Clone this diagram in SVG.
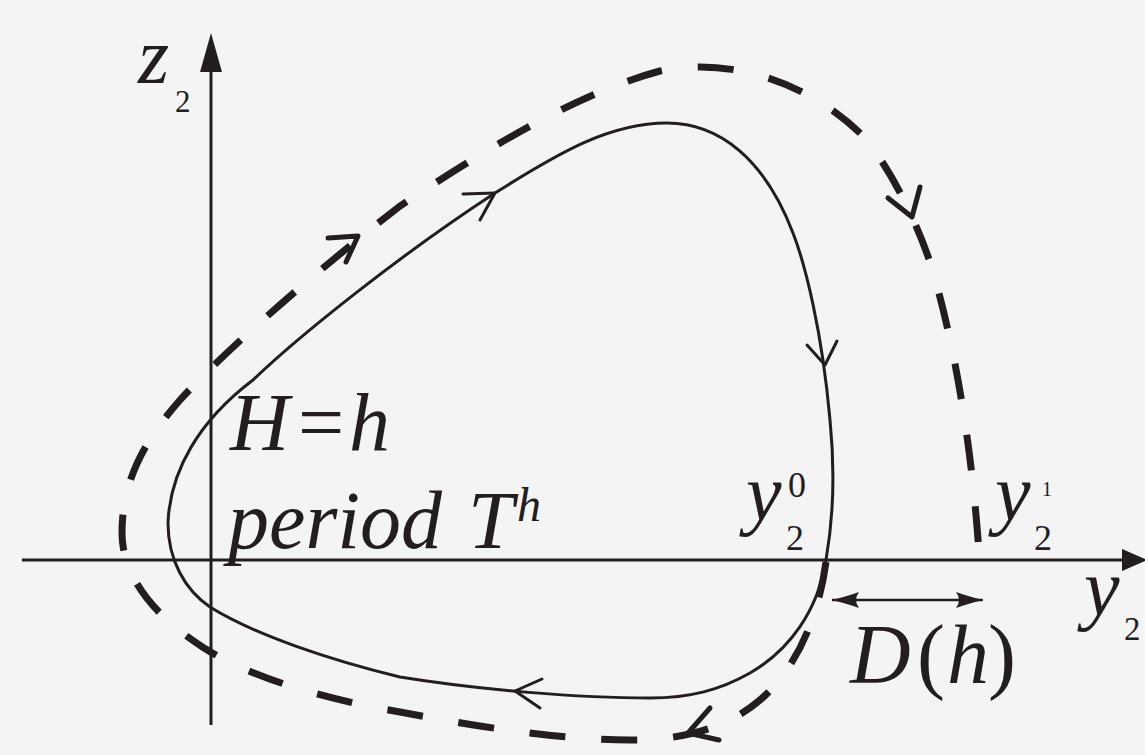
<svg xmlns="http://www.w3.org/2000/svg" width="1145" height="755" viewBox="0 0 1145 755">
<style>
.bg{fill:#f4f4f4}
.axis{stroke:#221e1f;stroke-width:3;fill:none}
.head{fill:#221e1f;stroke:none}
.orbit{stroke:#221e1f;stroke-width:3;fill:none}
.dash{stroke:#221e1f;stroke-width:7;fill:none;stroke-dasharray:36 36}
.chev{stroke:#221e1f;stroke-width:3;fill:none;stroke-linecap:round;stroke-linejoin:round}
.dchev{stroke:#221e1f;stroke-width:5;fill:none;stroke-linecap:round;stroke-linejoin:round}
.dim{stroke:#221e1f;stroke-width:2.5;fill:none}
.it{font-style:italic}
</style>
<defs>
<marker id="dh" viewBox="-30 -10 32 20" refX="0" refY="0" markerWidth="32" markerHeight="20" markerUnits="userSpaceOnUse" orient="auto-start-reverse">
<path d="M0,0 Q-16,-4 -27,-8 Q-21,0 -27,8 Q-16,4 0,0 Z" fill="#221e1f"/>
</marker>
</defs>
<rect class="bg" x="0" y="0" width="1145" height="755"/>
<g id="axes">
<line class="axis" x1="211" y1="725" x2="211" y2="70"/>
<path class="head" d="M211,33 L222,72 L200,72 Z"/>
<line class="axis" x1="22" y1="560" x2="1124" y2="560"/>
<path class="head" d="M1147,560 L1122,549 L1122,571 Z"/>
</g>
<g id="orbit-h">
<path class="orbit" d="M168,523 C170,470 200,420 253,380 C300,335 400,255 495,193 C560,152 610,123 667,123 C720,123 765,160 793,233 C805,264 822,330 830,420 C835,470 833,520 826,560 C818,610 790,650 750,673 C720,690 690,698 650,698 C580,698 480,690 400,677 C330,660 255,635 210,607 C185,590 168,560 168,523 Z"/>
<path class="chev" d="M463,194 L495,193 L480,220"/>
<path class="chev" d="M807,345 L825,365 L837,341"/>
<path class="chev" d="M542,679 L515,691 L540,708"/>
</g>
<g id="orbit-perturbed">
<path class="dash" d="M826,562 C818,620 795,670 760,700 C725,730 680,740 630,740 C560,740 480,727 400,712 C330,700 255,680 204,648 C160,620 122,580 122,533 C122,480 145,440 180,400 C230,345 330,260 400,206 C470,160 570,95 660,71 C720,58 800,75 861,134 C885,160 912,210 930,262 C948,320 970,420 979,553"/>
<path class="dchev" d="M328,238 L358,236 L346,262"/>
<path class="dchev" d="M888,198 L912,217 L920,187"/>
<path class="dchev" d="M710,708 L688,733 L719,740"/>
</g>
<g id="distance">
<line class="dim" x1="832" y1="600" x2="983" y2="600" marker-start="url(#dh)" marker-end="url(#dh)"/>
</g>
<g id="labels" fill="#221e1f" font-family="'Liberation Serif', 'Times New Roman', serif">
<text class="it" x="138" y="83" font-size="80">z</text>
<text x="175" y="112" font-size="31">2</text>
<text font-size="82" y="450"><tspan class="it" x="230">H</tspan><tspan x="298">=</tspan><tspan class="it" x="349">h</tspan></text>
<text class="it" x="228" y="548" font-size="82">period</text>
<text class="it" x="468" y="548" font-size="82">T</text>
<text class="it" x="517" y="521" font-size="48">h</text>
<text class="it" x="746" y="520" font-size="80">y</text>
<text x="788" y="497" font-size="36">0</text>
<text x="786" y="550" font-size="36">2</text>
<text class="it" x="995" y="520" font-size="80">y</text>
<text x="1042" y="496" font-size="20">1</text>
<text x="1034" y="550" font-size="36">2</text>
<text class="it" x="1084" y="615" font-size="80">y</text>
<text x="1124" y="640" font-size="33">2</text>
<text font-size="84" y="683"><tspan class="it" x="850">D</tspan><tspan x="917">(</tspan><tspan class="it" x="947">h</tspan><tspan x="988">)</tspan></text>
</g>
</svg>
